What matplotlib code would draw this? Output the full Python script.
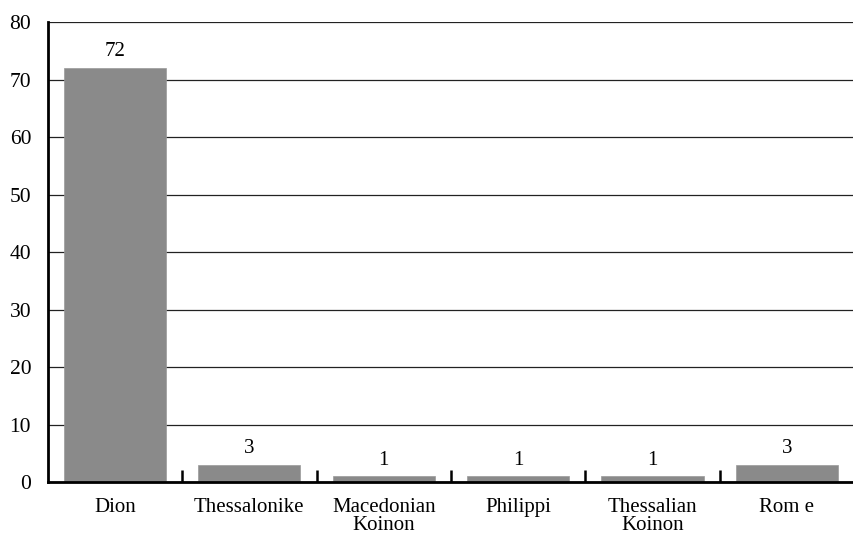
import matplotlib
matplotlib.use("Agg")
import matplotlib.pyplot as plt
import numpy as np

cities = ["Dion", "Thessalonike", "Macedonian\nKoinon", "Philippi", "Thessalian\nKoinon", "Rom e"]
counts = [72, 3, 1, 1, 1, 3]

plt.rcParams['font.family'] = ['Liberation Serif', 'DejaVu Serif']

fig = plt.figure(figsize=(8.54, 5.37), dpi=100)
ax = fig.add_axes([0.056, 0.102, 0.944, 0.857])

x = np.arange(len(cities))
ax.bar(x, counts, width=0.76, color='#8a8a8a', edgecolor='#9a9a9a', linewidth=0.5, zorder=2)

for xi, v in zip(x, counts):
    ax.text(xi, v + 1.2, str(v), ha='center', va='bottom', fontsize=15)

ax.set_xlim(-0.5, len(cities) - 0.5)
ax.set_ylim(0, 80)
ax.set_yticks(range(0, 81, 10))
ax.yaxis.grid(True, color='#222222', linewidth=0.9, zorder=1)
ax.tick_params(axis='y', length=0, labelsize=15.5, pad=12)

# category labels centred, tick marks on the boundaries
ax.set_xticks(x)
ax.set_xticklabels(cities, fontsize=15, linespacing=0.95)
ax.tick_params(axis='x', which='major', length=0, pad=11)
ax.set_xticks(x[:-1] + 0.5, minor=True)
ax.tick_params(axis='x', which='minor', direction='in', length=9, width=1.8, color='black')

for side in ['top', 'right']:
    ax.spines[side].set_visible(False)
ax.spines['left'].set_linewidth(2)
ax.spines['bottom'].set_linewidth(2)

fig.savefig("out.png", dpi=100)
